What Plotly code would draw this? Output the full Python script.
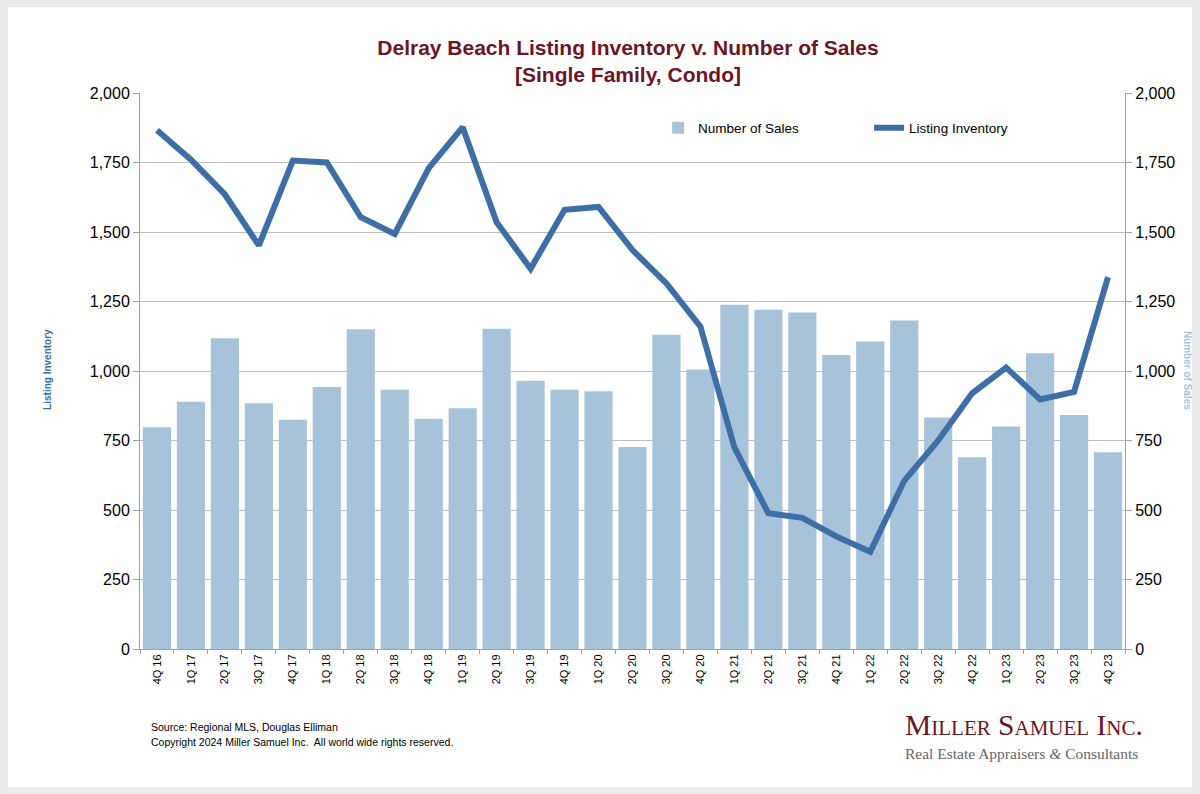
import plotly.graph_objects as go

quarters = ["4Q 16", "1Q 17", "2Q 17", "3Q 17", "4Q 17", "1Q 18", "2Q 18", "3Q 18", "4Q 18",
            "1Q 19", "2Q 19", "3Q 19", "4Q 19", "1Q 20", "2Q 20", "3Q 20", "4Q 20",
            "1Q 21", "2Q 21", "3Q 21", "4Q 21", "1Q 22", "2Q 22", "3Q 22", "4Q 22",
            "1Q 23", "2Q 23", "3Q 23", "4Q 23"]

number_of_sales = [798, 889, 1118, 884, 825, 942, 1150, 933, 828,
                   866, 1152, 965, 933, 927, 727, 1130, 1005,
                   1238, 1220, 1210, 1058, 1106, 1182, 833, 690,
                   800, 1064, 842, 708]

listing_inventory = [1866, 1760, 1635, 1452, 1757, 1750, 1553, 1493, 1730,
                     1877, 1535, 1368, 1580, 1590, 1435, 1315, 1160,
                     725, 488, 472, 405, 350, 605, 750, 920,
                     1012, 898, 925, 1338]

y_ticks = [0, 250, 500, 750, 1000, 1250, 1500, 1750, 2000]

BAR = "#a7c3da"
LINE = "#3d6ea5"
MAROON = "#6b1626"
AX = "#a0a0a0"
GRID = "#bdbdbd"
FONT = "Liberation Sans, Arial, sans-serif"

fig = go.Figure()
fig.add_trace(go.Bar(x=quarters, y=number_of_sales, name="Number of Sales",
                     marker=dict(color=BAR, line=dict(width=0)), yaxis="y"))
fig.add_trace(go.Scatter(x=quarters, y=listing_inventory, name="Listing Inventory",
                         mode="lines", line=dict(color=LINE, width=6), yaxis="y2"))

common_y = dict(range=[0, 2000], tickvals=y_ticks, tickformat=",",
                tickfont=dict(family=FONT, size=16, color="black"),
                showline=True, linecolor=AX, linewidth=1,
                ticks="outside", ticklen=6, tickcolor=AX, zeroline=False)

fig.update_layout(
    width=1200, height=794,
    margin=dict(l=140, r=75, t=93, b=145),
    paper_bgcolor="#ebebeb", plot_bgcolor="rgba(0,0,0,0)",
    bargap=0.17,
    showlegend=True,
    legend=dict(orientation="h", x=0.526, y=0.937, xanchor="left", yanchor="middle",
                bgcolor="rgba(0,0,0,0)", font=dict(family=FONT, size=13.5, color="black"),
                entrywidth=166, entrywidthmode="pixels", traceorder="normal"),
    title=dict(text="Delray Beach Listing Inventory v. Number of Sales<br>[Single Family, Condo]",
               x=628/1200, xref="container", xanchor="center",
               y=1-55/794, yref="container", yanchor="middle",
               font=dict(family="Liberation Sans Narrow, Arial Narrow, Liberation Sans, Arial", size=21,
                         color=MAROON, weight="bold")),
    xaxis=dict(type="category", range=[-0.5, len(quarters)-0.5], tickangle=-90,
               tickfont=dict(family=FONT, size=11, color="black"),
               showline=True, linecolor=AX, linewidth=1,
               ticks="outside", tickson="boundaries", ticklen=4, tickcolor=AX,
               showgrid=False),
    yaxis=dict(**common_y, side="left", showgrid=True, gridcolor=GRID, gridwidth=1),
    yaxis2=dict(**common_y, side="right", overlaying="y", showgrid=False),
)

# white card behind everything
fig.add_shape(type="rect", xref="paper", yref="paper",
              x0=(8-140)/985, x1=(1192-140)/985, y0=(649-787)/556, y1=(649-7)/556,
              fillcolor="white", line=dict(width=0), layer="below")

ann = [
    dict(text="<b>Listing Inventory</b>", x=(48-140)/985, y=0.502, textangle=-90,
         font=dict(family=FONT, size=10, color=LINE), xanchor="center", yanchor="middle"),
    dict(text="<b>Number of Sales</b>", x=(1187-140)/985, y=0.502, textangle=90,
         font=dict(family=FONT, size=10, color=BAR), xanchor="center", yanchor="middle"),
    dict(text="Source: Regional MLS, Douglas Elliman", x=(149-140)/985, y=(649-727)/556,
         font=dict(family=FONT, size=10.5, color="black"), xanchor="left", yanchor="middle"),
    dict(text="Copyright 2024 Miller Samuel Inc.  All world wide rights reserved.",
         x=(149-140)/985, y=(649-742)/556,
         font=dict(family=FONT, size=10.5, color="black"), xanchor="left", yanchor="middle"),
    dict(text="Miller Samuel Inc.", x=(903-140)/985, y=(649-725)/556,
         font=dict(family="Liberation Serif, DejaVu Serif, serif", size=29.5, color=MAROON,
                   variant="small-caps"),
         xanchor="left", yanchor="middle"),
    dict(text="Real Estate Appraisers <i>&amp;</i> Consultants", x=(903-140)/985, y=(649-753)/556,
         font=dict(family="Liberation Serif, DejaVu Serif, serif", size=15.5, color="#666666"),
         xanchor="left", yanchor="middle"),
]
for a in ann:
    fig.add_annotation(xref="paper", yref="paper", showarrow=False, **a)

fig.write_html("out.html")
